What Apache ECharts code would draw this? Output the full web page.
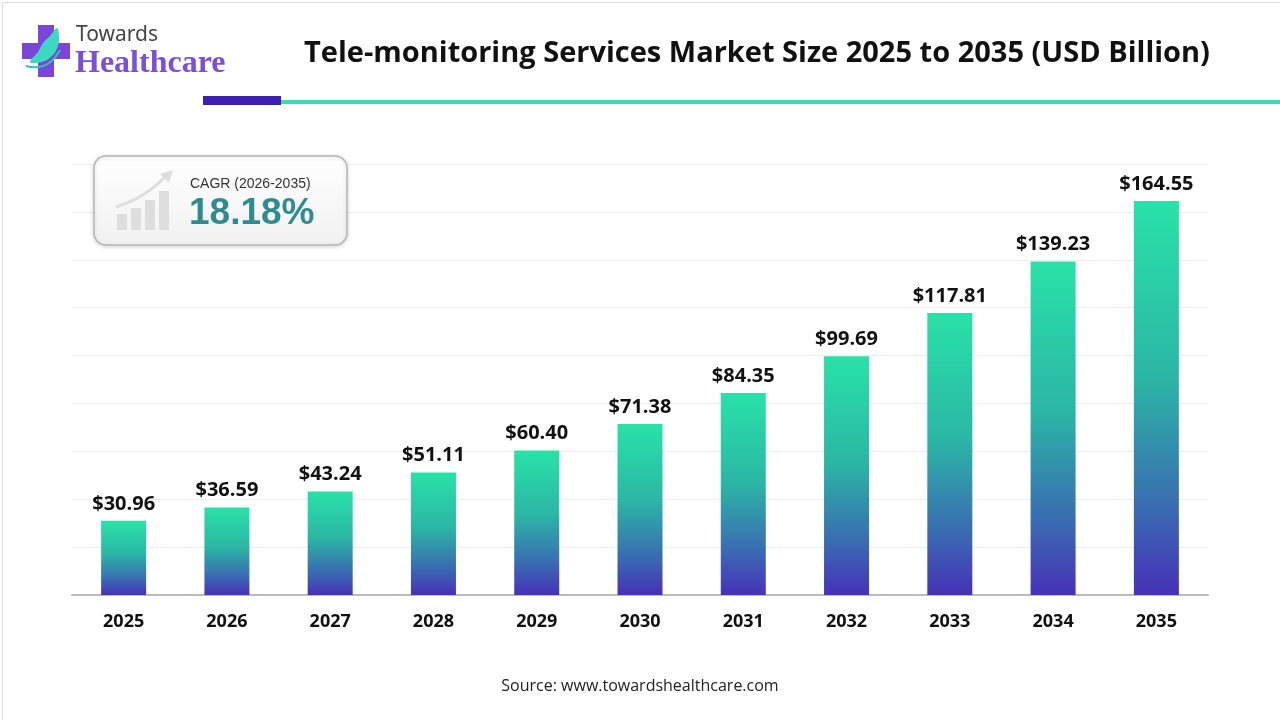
<!DOCTYPE html>
<html><head><meta charset="utf-8">
<script src="https://cdn.jsdelivr.net/npm/echarts@6/dist/echarts.min.js"></script>
<style>html,body{margin:0;padding:0;background:#fff}#c{width:1280px;height:720px}</style>
</head><body><div id="c"></div>
<script>
var categories = ['2025','2026','2027','2028','2029','2030','2031','2032','2033','2034','2035'];
var marketSize = [30.96,36.59,43.24,51.11,60.40,71.38,84.35,99.69,117.81,139.23,164.55];
var titleText = 'Tele-monitoring Services Market Size 2025 to 2035 (USD Billion)';
var cagrLabel = 'CAGR (2026-2035)';
var cagrValue = '18.18%';
var sourceText = 'Source: www.towardshealthcare.com';

var chart = echarts.init(document.getElementById('c'));
var font = '"Open Sans", "Noto Sans", sans-serif';
var g = [
    {type: 'rect', left: 0, top: 0, shape: {width: 1279, height: 719}, style: {fill: 'none', stroke: '#dddddd', lineWidth: 1}, silent: true},
    {type: 'rect', shape: {x: 281, y: 100, width: 999, height: 4}, style: {fill: '#3DD9B5'}},
    {type: 'rect', shape: {x: 203, y: 96, width: 78, height: 9}, style: {fill: '#3A1FB0'}},
    {type: 'rect', shape: {x: 38, y: 25, width: 16, height: 52}, style: {fill: '#7A45D8'}},
    {type: 'rect', shape: {x: 22, y: 43, width: 48, height: 16}, style: {fill: '#7A45D8'}},
    {type: 'polygon', shape: {smooth: 0.4, points: [[30,62],[42,62],[52,56],[58,46],[59,36],[57,28],[50,36],[43,43],[38,52]]}, style: {fill: '#3CD8C0'}},
    {type: 'bezierCurve', shape: {x1: 26, y1: 66, x2: 60, y2: 50, cpx1: 48, cpy1: 72}, style: {fill: 'none', stroke: '#2EC4B0', lineWidth: 2}},
    {type: 'text', style: {x: 76, y: 35, text: 'Towards', verticalAlign: 'middle', font: '21px "Noto Sans", sans-serif', fill: '#444'}},
    {type: 'text', style: {x: 75, y: 64, text: 'Healthcare', verticalAlign: 'middle', font: 'bold 32px "Liberation Serif", serif', fill: '#7B4FD8'}},
    {type: 'rect', shape: {x: 94, y: 156, width: 253, height: 89, r: 12},
      style: {fill: new echarts.graphic.LinearGradient(0,0,0,1,[{offset:0,color:'#ffffff'},{offset:1,color:'#f1f1f1'}]),
        stroke: '#b5b5b5', lineWidth: 1.5, shadowBlur: 4, shadowColor: 'rgba(0,0,0,0.15)', shadowOffsetY: 1}},
    {type: 'rect', shape: {x: 117, y: 214, width: 10, height: 16}, style: {fill: '#dedede'}},
    {type: 'rect', shape: {x: 131, y: 208, width: 10, height: 22}, style: {fill: '#dedede'}},
    {type: 'rect', shape: {x: 145, y: 200, width: 10, height: 30}, style: {fill: '#dedede'}},
    {type: 'rect', shape: {x: 159, y: 191, width: 10, height: 39}, style: {fill: '#dedede'}},
    {type: 'bezierCurve', shape: {x1: 116, y1: 207, x2: 166, y2: 176, cpx1: 145, cpy1: 198}, style: {fill: 'none', stroke: '#dedede', lineWidth: 3}},
    {type: 'polygon', shape: {points: [[160,174],[173,170],[169,183]]}, style: {fill: '#dedede'}},
    {type: 'text', style: {x: 190, y: 184, text: cagrLabel, verticalAlign: 'middle', font: '14px "Liberation Sans", Arial, sans-serif', fill: '#333'}},
    {type: 'text', style: {x: 189, y: 214, text: cagrValue, verticalAlign: 'middle', font: 'bold 37px "Liberation Sans", Arial, sans-serif', fill: '#2E8C91'}},
    {type: 'text', style: {x: 640, y: 686, text: sourceText, align: 'center', verticalAlign: 'middle', font: '16px "Open Sans", sans-serif', fill: '#222'}}
];
g.forEach(function(e){ e.z = 100; });
chart.setOption({
  backgroundColor: '#fff',
  animation: false,
  title: {
    text: titleText, left: 752, top: 34, textAlign: 'center',
    textStyle: {fontFamily: font, fontWeight: 'bold', fontSize: 29, color: '#111'}
  },
  grid: {left: 72, right: 72, top: 164, bottom: 125},
  xAxis: {
    type: 'category', data: categories,
    axisLine: {lineStyle: {color: '#bbb', width: 2}},
    axisTick: {show: false},
    axisLabel: {fontFamily: font, fontWeight: 'bold', fontSize: 18, color: '#111', margin: 18}
  },
  yAxis: {
    type: 'value', min: 0, max: 180, interval: 20,
    axisLabel: {show: false}, axisLine: {show: false}, axisTick: {show: false},
    splitLine: {lineStyle: {color: '#ececec', width: 1}}
  },
  series: [{
    type: 'bar', data: marketSize, barWidth: 45,
    itemStyle: {color: new echarts.graphic.LinearGradient(0,0,0,1,[
      {offset: 0, color: '#29E2A8'},
      {offset: 0.45, color: '#2BB6A5'},
      {offset: 0.78, color: '#3A6BB2'},
      {offset: 1, color: '#4731B8'}
    ])},
    label: {show: true, position: 'top', distance: 7,
      formatter: function(p){ return '$' + p.value.toFixed(2); },
      fontFamily: font, fontWeight: 'bold', fontSize: 20, color: '#111'}
  }],
  graphic: g
});
</script></body></html>
